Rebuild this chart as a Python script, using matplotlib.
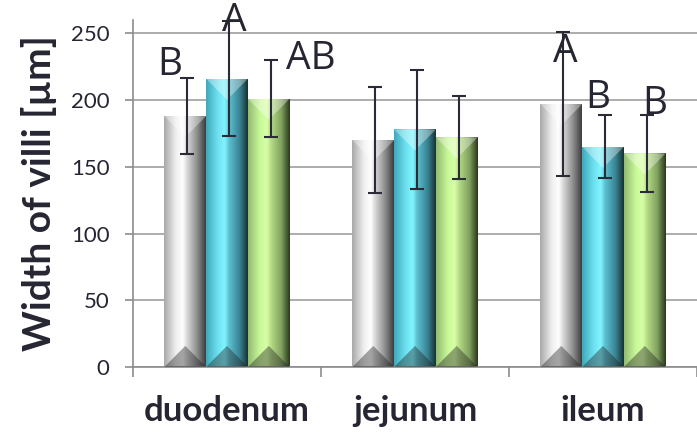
import numpy as np
import matplotlib
matplotlib.use('Agg')
import matplotlib.pyplot as plt
from matplotlib.colors import LinearSegmentedColormap
from matplotlib.patches import Polygon

# data
sections = ['duodenum', 'jejunum', 'ileum']
white_vals = [188, 170, 197]
white_err = [28.5, 40, 54]
cyan_vals = [216, 178, 165]
cyan_err = [43, 44.5, 23.5]
green_vals = [201, 172, 160]
green_err = [29, 31, 29]

# significance letters: (text, x, y)
letters = ['B', 'A', 'AB', 'A', 'B', 'B']
letter_x = [-0.305, 0.037, 0.447, 1.80, 1.974, 2.274]
letter_y = [226, 259, 231, 236, 201.5, 197]

plt.rcParams['font.family'] = ['Lato', 'DejaVu Sans']

fig = plt.figure(figsize=(6.97, 4.36), dpi=100)
ax = fig.add_axes([133/697, 69/436, 1 - 133/697, (367-20)/436])

x = np.arange(len(sections))
w = 0.222

# gradient stops for each series
grads = {
    'white': ['#a8a8a8', '#eeeeee', '#ffffff', '#d8d8d8', '#8a8a8a', '#3c3c3c'],
    'cyan': ['#3fa8b8', '#6ee0f0', '#80f4ff', '#5cc0d0', '#3a8494', '#17302f'],
    'green': ['#92ba72', '#c8f898', '#d8ffa8', '#b4dc84', '#80a060', '#27361a'],
}
stops = [0, 0.28, 0.45, 0.55, 0.8, 1.0]

series = [(white_vals, white_err, 'white', -w),
          (cyan_vals, cyan_err, 'cyan', 0),
          (green_vals, green_err, 'green', w)]

ax.set_xlim(-0.5, 2.468)
ax.set_ylim(0, 260)

# pixel -> data scale for bevel depth
px_per_x = 564 / (2.468 + 0.5)
px_per_y = 347 / 260.0

grad_img = np.linspace(0, 1, 256).reshape(1, -1)

for vals, errs, name, off in series:
    cmap = LinearSegmentedColormap.from_list(name, list(zip(stops, grads[name])))
    bars = ax.bar(x + off, vals, w, color='none', edgecolor='none', zorder=2)
    for b in bars:
        x0 = b.get_x()
        x1 = x0 + b.get_width()
        h = b.get_height()
        im = ax.imshow(grad_img, cmap=cmap, extent=(x0, x1, 0, h),
                       aspect='auto', zorder=2, interpolation='bicubic')
        im.set_clip_path(b)
        xc = (x0 + x1) / 2
        d = (b.get_width() / 2) * px_per_x / px_per_y
        top = Polygon([(x0, h), (x1, h), (xc, h - d)], closed=True,
                      facecolor='white', alpha=0.35, edgecolor='none', zorder=3)
        bot = Polygon([(x0, 0), (x1, 0), (xc, d)], closed=True,
                      facecolor='#202020', alpha=0.4, edgecolor='none', zorder=3)
        ax.add_patch(top)
        ax.add_patch(bot)
    ax.errorbar(x + off + 0.01, vals, yerr=errs, fmt='none', ecolor='#2b2b38',
                elinewidth=1.5, capsize=5, capthick=1.5, zorder=5)

ax.set_xlim(-0.5, 2.468)
ax.set_ylim(0, 260)

for t, lx, ly in zip(letters, letter_x, letter_y):
    ax.text(lx, ly, t, ha='center', va='center', fontsize=28,
            family=['Open Sans', 'DejaVu Sans'], color='#262633', zorder=6)

ax.set_yticks([0, 50, 100, 150, 200, 250])
ax.yaxis.grid(True, color='#a6a6a6', linewidth=1.3)
ax.set_axisbelow(True)
ax.tick_params(axis='y', labelsize=16, colors='#8c8c8c', labelcolor='#262633',
               length=6, width=1.2, pad=11)
ax.set_xticks(x)
ax.set_xticklabels(sections, fontsize=25, fontweight='bold', color='#262633')
ax.tick_params(axis='x', which='major', length=0, pad=20)
ax.set_xticks([-0.5, 0.5, 1.5, 2.5], minor=True)
ax.tick_params(axis='x', which='minor', length=7, width=1.2, colors='#8c8c8c')

for s in ['top', 'right']:
    ax.spines[s].set_visible(False)
for s in ['left', 'bottom']:
    ax.spines[s].set_color('#8c8c8c')
    ax.spines[s].set_linewidth(1.2)

ax.set_ylabel('Width of villi [µm]', fontsize=28, fontweight='bold',
              color='#262633')
ax.yaxis.set_label_coords(-0.135, 0.5)

fig.savefig('out.png', dpi=100)
